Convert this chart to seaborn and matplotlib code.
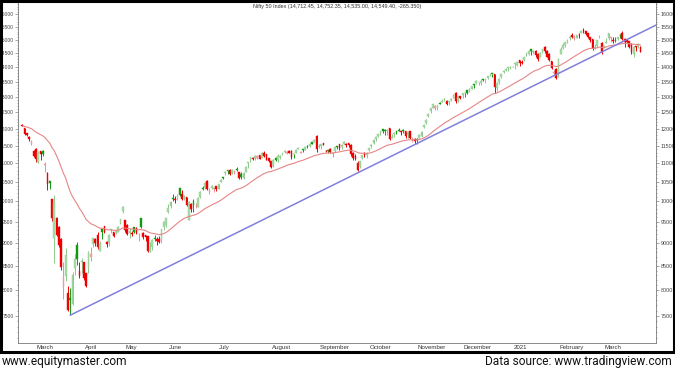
import numpy as np
import pandas as pd
import matplotlib
matplotlib.use('Agg')
import matplotlib.pyplot as plt
import matplotlib.ticker as mticker
from matplotlib.patches import Rectangle
import seaborn as sns

# ── Data: Nifty 50 daily candles, 20 Feb 2020 → 24 Mar 2021 ─────────────────
HOLIDAYS = ["2020-02-21", "2020-03-10", "2020-04-02", "2020-04-06", "2020-04-10",
            "2020-04-14", "2020-05-01", "2020-05-25", "2020-10-02", "2020-11-16",
            "2020-11-30", "2020-12-25", "2021-01-26", "2021-03-11"]
EXTRA_SESSIONS = ["2020-11-14"]   # muhurat trading (Saturday)

opens = [
    # Feb 2020
    12119, 12012, 11877, 11738, 11537, 11354,
    # Mar 2020
    11388, 11034, 11346, 11358, 10943, 10742, 10531, 10058, 9108, 9588, 9371,
    9089, 8063, 8286, 7945, 7849, 7735, 8451, 8949, 8385, 8584,
    # Apr 2020
    8585, 8356, 8447, 8688, 8974, 9104, 9196, 8832, 9324, 9390, 9017, 9027,
    9306, 9249, 9234, 9257, 9463, 9753,
    # May 2020
    9533, 9429, 9226, 9234, 9377, 9348, 9181, 9584, 9231, 9182, 9158, 8824,
    8914, 9122, 9084, 9100, 9082, 9364, 9422,
    # Jun 2020
    9726, 9880, 10082, 10054, 10093, 10326, 10182, 10072, 10094, 9545, 9919,
    10014, 9876, 9864, 10119, 10318, 10347, 10529, 10235, 10338, 10311, 10383,
    # Jul 2020
    10323, 10485, 10614, 10723, 10802, 10818, 10755, 10734, 10851, 10750, 10702,
    10602, 10752, 10999, 11091, 11155, 11150, 11150, 11226, 11154, 11276, 11254,
    11140,
    # Aug 2020
    11057, 10946, 11155, 11086, 11186, 11270, 11322, 11289, 11334, 11353, 11248,
    11276, 11409, 11284, 11394, 11385, 11498, 11474, 11605, 11602, 11777,
    # Sep 2020
    11465, 11487, 11562, 11355, 11360, 11402, 11253, 11340, 11475, 11542, 11450,
    11555, 11558, 11582, 11503, 11288, 11197, 11018, 10911, 11140, 11288, 11244,
    # Oct 2020
    11364, 11487, 11574, 11680, 11793, 11852, 11974, 11935, 11917, 12023, 11727,
    11835, 11923, 11957, 11910, 11937, 11937, 11807, 11922, 11633, 11678,
    # Nov 2020
    11697, 11734, 11783, 12062, 12157, 12399, 12556, 12645, 12627, 12631, 12801,
    12829, 12910, 12861, 12813, 12907, 12960, 13130, 12906, 13013,
    # Dec 2020
    13063, 13121, 13215, 13177, 13265, 13394, 13470, 13473, 13461, 13573, 13565,
    13617, 13713, 13765, 13777, 13292, 13473, 13672, 13815, 13910, 13981, 13971,
    # Jan 2021
    13997, 14104, 14075, 14240, 14192, 14258, 14474, 14474, 14639, 14550, 14594,
    14474, 14371, 14538, 14730, 14583, 14477, 14237, 13811, 13946,
    # Feb 2021
    13758, 14482, 14706, 14789, 14919, 15064, 15165, 15078, 15082, 15174, 15270,
    15372, 15341, 15239, 15103, 15024, 14707, 14751, 15094, 14888,
    # Mar 2021
    14702, 14866, 15064, 15063, 15005, 15003, 15016, 15175, 15265, 15029, 14997,
    14946, 14855, 14471, 14737, 14769, 14712.45,
]

highs = [
    12153, 12012, 11883, 11783, 11663, 11385,
    11433, 11330, 11357, 11386, 11036, 10751, 10532, 10064, 10160, 9602, 9404,
    9127, 8575, 8883, 8084, 8036, 8376, 8749, 9038, 8576, 8678,
    8588, 8357, 8819, 8914, 9128, 9112, 9261, 9053, 9324, 9390, 9044, 9209,
    9319, 9249, 9297, 9390, 9567, 9889,
    9533, 9450, 9346, 9277, 9382, 9379, 9239, 9584, 9248, 9192, 9158, 9030,
    9093, 9178, 9150, 9162, 9334, 9511, 9598,
    9931, 9996, 10177, 10126, 10180, 10328, 10291, 10148, 10112, 9996, 9943,
    10046, 9966, 10111, 10272, 10393, 10484, 10554, 10342, 10405, 10338, 10401,
    10447, 10572, 10631, 10775, 10814, 10848, 10847, 10809, 10894, 10755, 10755,
    10757, 10933, 11038, 11180, 11169, 11240, 11225, 11226, 11313, 11342, 11267,
    11150,
    11058, 11112, 11176, 11256, 11232, 11299, 11373, 11337, 11373, 11362, 11248,
    11401, 11461, 11341, 11414, 11477, 11525, 11562, 11617, 11686, 11794,
    11554, 11554, 11584, 11369, 11381, 11438, 11307, 11452, 11494, 11552, 11535,
    11618, 11573, 11585, 11535, 11303, 11261, 11050, 11060, 11239, 11317, 11306,
    11428, 11536, 11680, 11779, 11849, 11939, 11974, 11981, 11997, 12025, 11834,
    11898, 11929, 12019, 11927, 11974, 11942, 11899, 11929, 11744, 11711,
    11725, 11836, 11929, 12131, 12281, 12475, 12644, 12769, 12721, 12735, 12829,
    12936, 12963, 12880, 12870, 12968, 13079, 13146, 13019, 13036,
    13129, 13129, 13216, 13281, 13366, 13435, 13549, 13497, 13580, 13597, 13587,
    13693, 13774, 13772, 13777, 13492, 13616, 13771, 13885, 13967, 13998, 14025,
    14050, 14148, 14216, 14245, 14244, 14367, 14498, 14590, 14653, 14617, 14617,
    14496, 14546, 14667, 14753, 14619, 14491, 14237, 13898, 13967,
    14336, 14731, 14868, 14913, 15015, 15159, 15257, 15169, 15174, 15243, 15341,
    15432, 15342, 15244, 15111, 15044, 14850, 14990, 15177, 14920,
    14806, 15052, 15273, 15100, 15092, 15111, 15117, 15232, 15337, 15051, 15010,
    14956, 14875, 14780, 14763, 14878, 14752.35,
]

lows = [
    12071, 11813, 11779, 11639, 11506, 11175,
    11037, 11001, 11083, 11215, 10750, 10295, 10309, 9508, 8555, 9159, 8916,
    8408, 7833, 8176, 7583, 7511, 7715, 8304, 8522, 8244, 8356,
    8198, 8056, 8360, 8615, 8905, 8946, 8875, 8822, 9091, 9230, 8909, 8947,
    9242, 9140, 9214, 9255, 9452, 9699,
    9266, 9190, 9116, 9175, 9238, 9213, 9044, 9351, 9105, 9050, 8807, 8806,
    8843, 9056, 8968, 8996, 9004, 9306, 9376,
    9706, 9824, 10000, 9944, 10040, 10120, 10022, 10037, 9885, 9544, 9726,
    9729, 9833, 9845, 10072, 10277, 10302, 10282, 10195, 10300, 10224, 10268,
    10299, 10485, 10563, 10689, 10695, 10676, 10718, 10712, 10777, 10562, 10578,
    10562, 10749, 10858, 11047, 11090, 11103, 11116, 11110, 11151, 11180, 11085,
    11026,
    10882, 10908, 11071, 11046, 11111, 11222, 11278, 11267, 11280, 11111, 11144,
    11276, 11394, 11281, 11325, 11368, 11423, 11456, 11541, 11589, 11326,
    11434, 11404, 11507, 11303, 11283, 11289, 11185, 11326, 11394, 11369, 11393,
    11537, 11465, 11465, 11207, 11082, 11085, 10790, 10880, 11131, 11183, 11154,
    11347, 11424, 11554, 11636, 11757, 11817, 11868, 11822, 11822, 11661, 11724,
    11736, 11841, 11916, 11821, 11875, 11712, 11723, 11684, 11606, 11535,
    11557, 11723, 11756, 12028, 12132, 12367, 12486, 12625, 12586, 12573, 12755,
    12828, 12872, 12730, 12740, 12850, 12948, 12790, 12834, 12910,
    12962, 12984, 13097, 13153, 13253, 13302, 13432, 13403, 13403, 13522, 13464,
    13605, 13697, 13672, 13131, 13191, 13419, 13626, 13807, 13860, 13865, 13937,
    13991, 13954, 14049, 14040, 14115, 14222, 14383, 14439, 14435, 14471, 14357,
    14222, 14350, 14517, 14517, 14358, 14218, 13929, 13713, 13597,
    13662, 14469, 14665, 14714, 14865, 14993, 15065, 14977, 15065, 15081, 15243,
    15243, 15170, 15064, 14898, 14619, 14652, 14725, 15066, 14467,
    14692, 14865, 14995, 14919, 14864, 14919, 14972, 15056, 14985, 14745, 14865,
    14697, 14478, 14350, 14596, 14707, 14535.00,
]

closes = [
    12080, 11829, 11797, 11678, 11633, 11202,
    11132, 11303, 11251, 11269, 10989, 10451, 10458, 9590, 9955, 9197, 8967,
    8469, 8263, 8745, 7610, 7801, 8318, 8641, 8660, 8281, 8598,
    8254, 8084, 8792, 8748, 9112, 8994, 8925, 8992, 9267, 9262, 8981, 9187,
    9314, 9154, 9282, 9380, 9553, 9860,
    9294, 9206, 9270, 9200, 9252, 9240, 9197, 9384, 9142, 9137, 8823, 8880,
    9067, 9106, 9039, 9029, 9315, 9490, 9580,
    9826, 9980, 10062, 10029, 10142, 10167, 10046, 10116, 9902, 9972, 9813,
    9914, 9881, 10091, 10244, 10312, 10471, 10305, 10289, 10383, 10312, 10302,
    10430, 10552, 10607, 10764, 10800, 10706, 10813, 10768, 10802, 10607, 10618,
    10740, 10902, 11022, 11162, 11132, 11215, 11194, 11131, 11300, 11202, 11102,
    11073,
    10892, 11095, 11101, 11200, 11214, 11270, 11322, 11308, 11300, 11178, 11247,
    11385, 11409, 11312, 11372, 11466, 11472, 11549, 11559, 11647, 11388,
    11470, 11535, 11527, 11333, 11355, 11318, 11278, 11449, 11464, 11440, 11521,
    11605, 11516, 11505, 11250, 11153, 11132, 10805, 11050, 11228, 11222, 11248,
    11417, 11503, 11662, 11738, 11834, 11914, 11930, 11934, 11971, 11680, 11762,
    11873, 11896, 11937, 11896, 11930, 11767, 11889, 11730, 11670, 11642,
    11669, 11813, 11908, 12120, 12264, 12461, 12631, 12749, 12691, 12720, 12780,
    12874, 12938, 12772, 12859, 12926, 13055, 12858, 12987, 12969,
    13109, 13114, 13134, 13258, 13356, 13393, 13529, 13478, 13514, 13558, 13567,
    13682, 13740, 13761, 13328, 13466, 13601, 13749, 13873, 13932, 13981, 13982,
    14019, 14133, 14199, 14146, 14137, 14347, 14485, 14563, 14565, 14596, 14434,
    14281, 14521, 14645, 14590, 14372, 14239, 13968, 13818, 13635,
    14281, 14648, 14790, 14896, 14924, 15116, 15110, 15106, 15173, 15163, 15315,
    15314, 15209, 15119, 14982, 14676, 14708, 14982, 15097, 14529,
    14761, 14919, 15245, 15081, 14938, 14956, 15098, 15174, 15031, 14929, 14910,
    14721, 14557, 14744, 14736, 14815, 14549.40,
]

# trend line drawn on the chart (start at March 2020 low, end at right edge)
trend_x = [21, 277.8]
trend_y = [7511, 15560]

y_major = list(range(7500, 16001, 500))
TITLE = "Nifty 50 Index (14,712.45, 14,752.35, 14,535.00, 14,549.40, -265.350)"

# ── Build frame ──────────────────────────────────────────────────────────────
days = pd.bdate_range("2020-02-20", "2021-03-24")
days = days.drop(pd.to_datetime(HOLIDAYS)).union(pd.to_datetime(EXTRA_SESSIONS))
df = pd.DataFrame({"date": days, "open": opens, "high": highs,
                   "low": lows, "close": closes})
df["i"] = np.arange(len(df))
df["ema"] = df["close"].ewm(span=30, adjust=False).mean()
prev = df["close"].shift(1).fillna(df["open"])
up = df["close"] >= prev
hollow = df["close"] >= df["open"]

GREEN, PALE_GREEN = "#139a13", "#a9dca9"
RED, PALE_RED = "#f00000", "#f4a6a6"
body_col = np.where(up, np.where(hollow, PALE_GREEN, GREEN),
                    np.where(hollow, PALE_RED, RED))
wick_col = np.where(up, np.where(hollow, "#8cc98c", GREEN),
                    np.where(hollow, "#e89090", RED))

# ── Plot ─────────────────────────────────────────────────────────────────────
sns.set_style("white")
plt.rcParams["font.family"] = ["Liberation Sans", "DejaVu Sans"]

fig = plt.figure(figsize=(6.75, 3.70), dpi=100)
ax = fig.add_axes([18 / 675, 1 - 343 / 370, (656 - 18) / 675, (343 - 2) / 370])
ax.set_yscale("log")

ax.vlines(df["i"], df["low"], df["high"], colors=wick_col, lw=0.7, zorder=2)
body_lo = np.minimum(df["open"], df["close"])
body_h = np.maximum((df["close"] - df["open"]).abs(), df["close"] * 0.0015)
ax.bar(df["i"], body_h, bottom=body_lo, width=0.75, color=body_col,
       edgecolor=wick_col, linewidth=0.3, zorder=3)

sns.lineplot(x=df["i"], y=df["ema"], ax=ax, color="#e58686", lw=0.8, zorder=4)
sns.lineplot(x=trend_x, y=trend_y, ax=ax, color="#8080dc", lw=1.1, zorder=5)

ax.set_xlim(-1.9, 277.8)
ax.set_ylim(7005, 16490)
ax.set_xlabel("")
ax.set_ylabel("")

# y axis: labels on both sides, dense minor ticks
ax.yaxis.set_major_locator(mticker.FixedLocator(y_major))
ax.yaxis.set_major_formatter(mticker.FixedFormatter([str(v) for v in y_major]))
ax.yaxis.set_minor_locator(mticker.FixedLocator(range(7100, 16500, 100)))
ax.yaxis.set_minor_formatter(mticker.NullFormatter())
ax.tick_params(axis="y", which="both", left=True, right=True, labelleft=True,
               labelright=True, direction="out", color="#666666", width=0.4,
               labelsize=3.6, labelcolor="#444444", pad=1)
ax.tick_params(axis="y", which="major", length=2.2)
ax.tick_params(axis="y", which="minor", length=1.0)
# right-hand labels a touch larger, still fitting inside the image
for t in ax.yaxis.get_major_ticks():
    t.label2.set_fontsize(3.9)

# x axis: month ticks + weekly minor ticks, labels right of the month tick
# (the partial first month, February 2020, gets no label)
month_start = df.groupby(df["date"].dt.to_period("M"))["i"].min().iloc[1:]
week_start = df.groupby(df["date"].dt.to_period("W"))["i"].min()
ax.set_xticks(month_start.values)
ax.set_xticklabels([])
ax.set_xticks(week_start.values, minor=True)
ax.tick_params(axis="x", which="major", length=6.5, width=0.5, color="#555555",
               direction="out")
ax.tick_params(axis="x", which="minor", length=2.0, width=0.5, color="#555555",
               direction="out")
for per, pos in month_start.items():
    lbl = "2021" if per.month == 1 else per.strftime("%B")
    ax.text(pos + 0.4, -0.005, lbl, transform=ax.get_xaxis_transform(),
            ha="left", va="top", fontsize=4.4, color="#333333")

for side in ["left", "right", "bottom"]:
    ax.spines[side].set_color("#777777")
    ax.spines[side].set_linewidth(0.6)
ax.spines["top"].set_visible(False)

ax.text(0.5, 0.993, TITLE, transform=ax.transAxes, ha="center", va="top",
        fontsize=3.9, color="#333333")

# outer black frame
fig.patches.append(Rectangle((1 / 675, 1 - 352 / 370), 673 / 675, 351 / 370,
                             transform=fig.transFigure, fill=False,
                             edgecolor="black", linewidth=2.2))

fig.text(2 / 675, 1 - 362 / 370, "www.equitymaster.com", ha="left",
         va="center", fontsize=8.6, family="Roboto", color="#111111")
fig.text(1 - 3 / 675, 1 - 362 / 370, "Data source: www.tradingview.com",
         ha="right", va="center", fontsize=8.6, family="Roboto", color="#111111")

fig.savefig("out.png", dpi=100, facecolor="white")
